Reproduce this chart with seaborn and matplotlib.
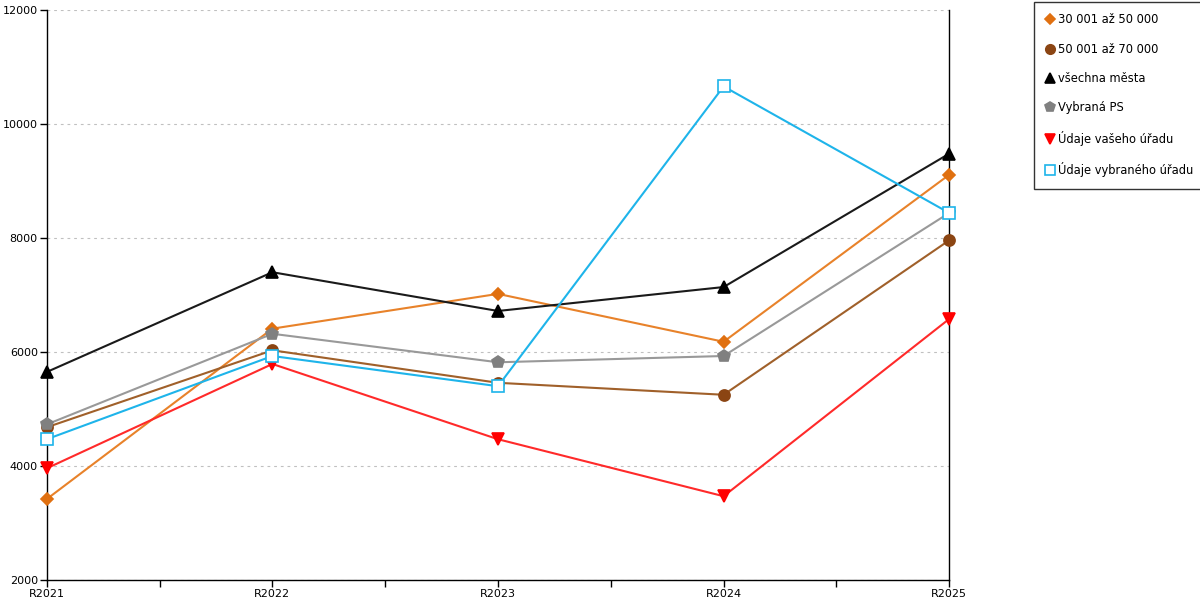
import pandas as pd
import numpy as np
import matplotlib
matplotlib.use("Agg")
import matplotlib.pyplot as plt
from matplotlib.lines import Line2D
from matplotlib.ticker import MultipleLocator
import seaborn as sns

# data
years = ["R2021", "R2022", "R2023", "R2024", "R2025"]
s_30_50 = [3420, 6410, 7020, 6180, 9110]
s_50_70 = [4680, 6030, 5460, 5250, 7960]
s_vsechna = [5650, 7400, 6720, 7140, 9480]
s_ps = [4730, 6320, 5820, 5930, 8440]
s_vas = [3960, 5790, 4470, 3470, 6580]
s_vybrany = [4470, 5930, 5400, 10660, 8440]

series_names = ["30 001 až 50 000", "50 001 až 70 000", "všechna města",
                "Vybraná PS", "Údaje vašeho úřadu", "Údaje vybraného úřadu"]
series_values = [s_30_50, s_50_70, s_vsechna, s_ps, s_vas, s_vybrany]

# style per series: line colour, marker, marker face, marker edge, size
styles = [
    ("#E8822A", "D", "#E07010", "#E07010", 6),
    ("#A0602A", "o", "#8B4513", "#8B4513", 8),
    ("#1A1A1A", "^", "#000000", "#000000", 8),
    ("#999999", "p", "#808080", "#808080", 9),
    ("#FF2A2A", "v", "#FF0000", "#FF0000", 8),
    ("#1EB4EA", "s", "white", "#1EB4EA", 8),
]

sns.set_theme(style="white")
plt.rcParams['font.family'] = ['DejaVu Sans']
plt.rcParams['text.color'] = 'black'

fig = plt.figure(figsize=(12, 6), dpi=100)
ax = fig.add_axes([0.039, 0.0333, 0.752, 0.95])

handles = []
for name, vals, (lc, mk, mfc, mec, ms) in zip(series_names, series_values, styles):
    df = pd.DataFrame({"rok": years, "hodnota": vals})
    sns.lineplot(data=df, x="rok", y="hodnota", ax=ax, color=lc, linewidth=1.5,
                 marker=mk, markersize=ms, markerfacecolor=mfc,
                 markeredgecolor=mec, markeredgewidth=1.2, sort=False,
                 clip_on=False, zorder=3)
    handles.append(Line2D([], [], linestyle="none", marker=mk, markersize=ms,
                          markerfacecolor=mfc, markeredgecolor=mec,
                          markeredgewidth=1.2, label=name))

ax.set_xlim(0, 4)
ax.set_ylim(2000, 12000)
ax.set_yticks(np.arange(2000, 12001, 2000))
ax.xaxis.set_minor_locator(MultipleLocator(0.5))
ax.set_xlabel("")
ax.set_ylabel("")

ax.grid(axis="y", color="#C0C0C0", linestyle=(0, (2.5, 3.5)), linewidth=0.8)
ax.set_axisbelow(True)

for side in ["left", "bottom", "right"]:
    ax.spines[side].set_color("black")
    ax.spines[side].set_linewidth(1)
ax.spines["top"].set_visible(False)

ax.tick_params(axis="both", which="both", direction="out", length=5,
               width=1, color="black", labelsize=8, colors="black", pad=1.5)
ax.tick_params(axis="x", bottom=True, which="both")
ax.tick_params(axis="y", left=True)

leg = fig.legend(handles=handles, loc="upper left", bbox_to_anchor=(0.862, 0.997),
                 fontsize=8.3, frameon=True, fancybox=False, edgecolor="black",
                 labelspacing=1.42, handlelength=0.7, handletextpad=0.35,
                 borderpad=1.0, borderaxespad=0, markerscale=0.85)
leg.get_frame().set_linewidth(1)
for t in leg.get_texts():
    t.set_color("black")

fig.savefig("out.png", dpi=100, facecolor="white")
